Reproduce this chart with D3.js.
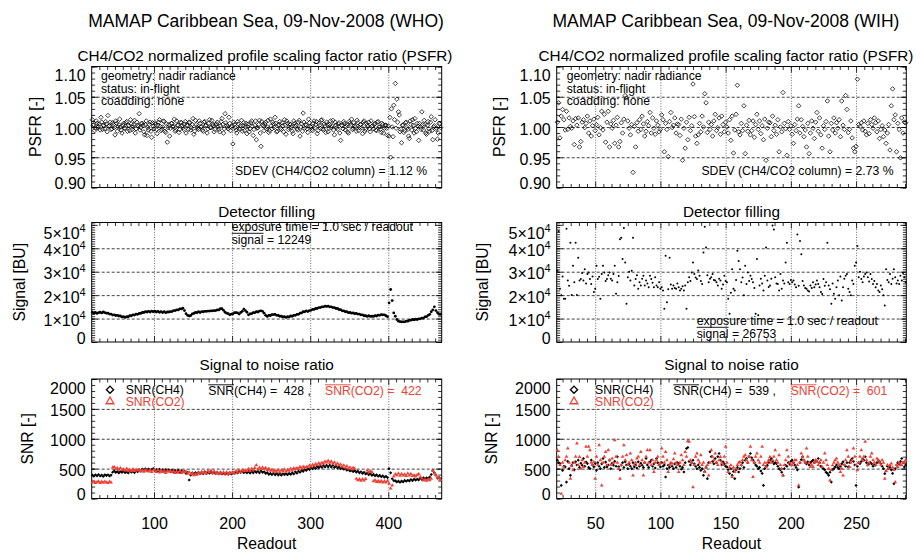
<!DOCTYPE html>
<html lang="en">
<head>
<meta charset="UTF-8" />
<title>MAMAP Caribbean Sea, 09-Nov-2008</title>
<style>
  body { margin: 0; background: #fff; }
  svg { font-family: "Liberation Sans", Arial, Helvetica, sans-serif; }
  .frame { fill: none; stroke: #000; stroke-width: 1; }
  .hgrid line { stroke: #111; stroke-width: 0.8; stroke-dasharray: 3, 2; }
  .vgrid line { stroke: #444; stroke-width: 0.8; stroke-dasharray: 1, 1.6; }
  .ticks line { stroke: #000; stroke-width: 0.8; }
  .ticks text { font-size: 16px; fill: #000; font-family: "Liberation Sans", Arial, sans-serif; }
  .title { font-size: 17.5px; }
  .sub { font-size: 15.3px; }
  .axlab { font-size: 15.7px; }
  .note { font-size: 12.2px; }
</style>
</head>
<body>
<svg width="920" height="552"></svg>
<script src="https://d3js.org/d3.v7.min.js"></script>
<script>
// ---- left column (WHO): odd readouts 21..467 (plus even readouts for PSFR)
const readoutL = d3.range(21, 468, 2);
const readoutLeven = d3.range(22, 467, 2);

const psfrL = [
  1.012,1.004,0.998,1.006,1.001,0.995,1.008,1.003,0.997,1.005,
  1.019,1.002,0.996,1.007,0.999,1.010,0.993,1.004,1.000,0.990,
  1.006,0.998,1.009,1.003,0.994,1.005,1.000,1.011,0.997,1.003,
  1.022,0.999,1.006,0.992,1.004,0.986,0.995,1.008,0.983,1.001,
  1.007,0.996,1.003,1.012,0.994,1.000,1.009,0.991,0.975,1.004,
  0.998,1.006,1.001,0.993,1.010,1.003,0.996,1.007,0.999,1.005,
  0.990,1.002,1.008,0.995,1.004,0.988,1.011,1.000,0.996,1.006,
  1.001,0.993,1.009,1.003,0.997,1.012,0.999,1.005,0.992,1.004,
  1.008,0.996,1.002,1.014,0.990,1.022,1.003,0.997,1.006,1.000,
  0.972,1.004,0.995,1.009,0.998,1.002,0.993,1.007,1.000,0.989,
  1.005,0.997,1.010,0.986,1.003,0.979,0.999,1.011,0.968,1.004,
  0.994,1.008,1.000,0.991,1.013,0.997,1.005,1.016,0.992,1.003,
  1.009,0.996,1.002,1.012,0.988,1.006,0.999,1.004,0.993,1.010,
  1.001,0.997,1.008,0.985,1.005,1.023,0.998,1.003,0.991,1.007,
  1.000,0.994,1.010,1.004,0.989,1.006,0.998,1.012,0.995,1.002,
  1.008,0.992,1.004,0.999,1.011,0.987,1.003,0.996,1.007,0.978,
  1.002,1.009,0.995,1.004,0.990,1.006,1.013,0.998,1.002,0.993,
  1.007,0.999,1.004,0.989,1.010,0.996,1.003,1.008,0.992,1.001,
  0.997,1.006,0.994,1.009,1.000,0.991,1.004,0.998,1.003,0.986,
  0.985,0.950,1.000,1.036,1.072,1.046,1.025,0.992,0.974,1.003,
  0.994,1.008,0.996,0.981,1.004,1.012,0.990,0.998,1.006,0.978,
  1.000,1.025,0.995,1.004,0.988,1.009,0.993,1.017,0.979,1.002,
  0.996,0.980,1.006,0.999
];

const psfrLeven = [
  1.003,0.994,1.010,0.999,1.005,1.016,0.996,1.002,1.009,0.992,
  1.001,1.008,0.997,1.004,0.987,1.006,1.000,1.013,0.995,1.003,
  0.998,1.007,0.993,1.002,1.012,0.996,1.004,0.990,1.008,1.001,
  0.995,1.006,1.003,0.987,1.010,0.999,1.004,0.993,1.007,0.997,
  1.004,0.989,1.008,1.001,0.996,1.010,0.993,1.005,0.999,0.985,
  1.006,1.000,1.013,0.995,1.003,0.991,1.008,1.002,0.996,1.009,
  1.003,0.996,1.007,0.999,1.014,0.993,1.004,0.998,1.010,1.000,
  0.995,1.008,1.002,0.990,1.006,0.999,1.011,1.003,0.996,1.005,
  1.000,0.992,1.009,1.004,0.997,1.007,1.000,1.016,0.994,1.002,
  1.008,0.999,0.990,1.005,0.996,1.011,1.002,0.994,1.006,1.000,
  0.992,1.007,1.001,0.996,1.010,0.998,1.004,0.990,1.009,1.002,
  1.005,0.997,1.011,0.994,1.002,1.008,0.999,1.006,0.993,1.004,
  0.998,1.007,0.992,1.003,1.010,0.996,1.005,1.000,0.989,1.006,
  1.003,0.995,1.011,1.000,0.993,1.008,1.004,0.997,1.013,1.001,
  0.996,1.006,0.999,1.009,0.994,1.003,1.011,0.997,1.005,0.991,
  1.004,0.998,1.010,1.002,0.995,1.008,0.999,1.005,0.990,1.003,
  0.997,1.006,1.001,0.992,1.009,1.003,0.996,1.007,1.000,1.011,
  0.994,1.004,0.999,1.008,0.993,1.006,1.001,0.997,1.010,1.002,
  1.004,0.995,1.008,1.000,0.996,1.006,0.990,1.003,0.998,1.002,
  1.016,1.030,0.984,1.012,0.998,1.008,1.020,0.996,1.003,0.991,
  1.007,0.999,0.985,1.010,0.995,1.003,1.014,0.992,1.001,1.006,
  0.996,1.004,1.011,0.990,1.003,0.997,1.008,0.994,1.000,1.012,
  0.998,0.990,1.005
];

// detector signal, in 10^3 BU
const signalL = [
  12.7,12.3,12.6,12.2,12.5,12.7,12.4,12.8,12.5,12.3,
  12.3,11.9,11.9,11.5,11.6,11.3,11.4,11.1,11.1,10.7,
  10.8,10.5,10.8,10.8,11.2,11.2,11.6,11.5,11.9,11.8,
  12.2,12.2,12.6,12.6,12.9,12.8,13.1,12.8,13.2,12.9,
  13.2,12.8,13.1,12.7,13.0,12.6,12.9,12.5,12.8,12.8,
  13.0,13.0,13.4,13.4,13.7,13.7,14.1,14.1,14.4,13.4,
  12.1,11.4,11.1,11.3,12.0,12.2,12.6,12.5,12.9,12.6,
  13.0,12.9,13.1,13.1,13.2,13.2,13.3,13.3,13.4,13.4,
  13.7,13.7,14.2,14.2,13.5,12.7,12.3,12.1,11.6,11.9,
  12.0,12.5,12.5,12.4,11.9,12.6,13.1,14.0,13.4,12.7,
  11.6,12.0,12.1,12.5,12.5,12.9,12.8,13.2,13.3,13.1,
  12.3,11.4,10.9,11.3,11.3,11.7,11.7,11.8,11.4,11.4,
  11.0,11.0,10.7,10.8,10.5,10.8,10.7,11.1,11.0,11.4,
  11.4,11.8,11.8,12.3,12.4,12.9,12.9,13.3,13.0,13.4,
  13.5,13.9,13.9,14.3,14.3,14.7,14.7,15.0,15.0,15.3,
  15.2,15.3,15.0,15.0,14.7,14.7,14.3,14.3,13.8,13.8,
  13.3,13.3,12.9,12.9,12.5,12.6,12.3,12.4,12.1,12.2,
  11.9,11.9,11.6,11.6,11.2,11.2,10.9,11.2,10.9,11.0,
  10.9,11.2,11.1,11.5,11.4,11.7,11.6,11.6,11.2,10.8,
  16.7,22.4,17.7,12.4,11.0,9.6,8.9,8.7,8.6,8.6,
  8.6,8.9,8.9,9.3,9.3,9.6,9.5,9.7,9.6,9.9,
  9.9,10.2,10.2,10.7,10.8,11.4,11.8,12.9,13.7,15.0,
  13.4,12.5,11.8,11.8
];

const snrCh4L = [
  390,372,398,380,402,376,392,370,396,384,
  398,376,392,440,462,436,450,428,452,438,
  456,432,448,428,460,440,452,434,466,448,
  480,458,492,466,498,470,494,476,486,500,
  470,486,462,490,468,480,456,484,462,478,
  452,474,446,470,450,472,440,466,448,456,
  420,436,310,392,428,404,432,410,440,416,
  438,414,446,420,440,424,448,422,442,418,
  440,412,436,410,430,406,426,404,432,412,
  438,424,446,430,450,436,454,432,448,430,
  450,426,454,430,458,436,456,430,460,438,
  446,420,432,404,420,400,422,396,418,392,
  416,390,414,400,412,398,420,404,428,412,
  446,424,456,440,470,454,486,470,498,484,
  518,498,528,504,534,516,546,522,552,528,
  556,530,558,526,552,520,540,512,528,500,
  518,490,502,474,488,462,476,450,466,442,
  458,430,448,420,438,410,426,398,414,388,
  404,380,396,372,388,364,380,356,372,350,
  500,430,330,300,296,278,290,272,292,278,
  302,288,306,294,318,298,324,308,322,312,
  342,318,346,330,344,336,360,400,470,430,
  390,342,352,326
];

const snrCo2L = [
  270,282,262,276,286,260,280,266,284,268,
  262,282,270,520,530,496,506,482,510,478,
  492,470,498,466,484,458,490,462,484,470,
  480,456,476,450,478,462,452,480,446,474,
  482,446,474,438,470,444,466,430,462,450,
  462,440,456,430,452,434,462,428,446,440,
  452,414,440,406,420,390,406,400,428,416,
  446,428,440,420,458,440,466,424,452,418,
  432,410,436,418,440,416,442,412,428,424,
  440,420,462,436,470,444,476,458,472,462,
  494,464,500,476,512,557,486,516,494,520,
  496,512,480,500,466,482,454,470,448,474,
  440,474,456,486,450,480,466,498,470,506,
  490,510,496,528,502,534,516,530,524,552,
  536,566,548,578,560,590,572,600,586,620,
  604,632,600,622,588,606,570,588,556,572,
  534,556,516,540,500,520,490,516,498,330,
  308,322,300,324,304,326,468,440,458,444,
  292,306,278,294,272,296,270,292,268,296,
  250,170,220,370,406,392,420,380,412,388,
  404,378,420,386,412,376,392,370,396,410,
  360,336,304,316,300,318,306,330,466,420,
  390,348,338,312
];

// ---- right column (WIH): one value per readout, 21..288
const readoutR = d3.range(21, 289);

const psfrR = [
  1.008,1.040,0.982,1.018,1.029,1.012,0.995,1.026,0.996,1.015,
  1.001,0.998,1.010,0.971,1.014,1.003,1.015,0.967,0.976,1.008,
  1.012,0.999,1.006,1.018,0.990,1.010,0.985,1.002,1.013,0.994,
  1.004,1.016,0.987,0.999,1.026,0.995,1.021,0.975,1.008,1.026,
  0.967,1.005,0.998,1.011,0.973,1.003,1.016,0.967,0.976,1.007,
  0.990,1.013,1.052,1.048,1.010,0.998,0.987,1.004,0.925,1.001,
  0.967,1.007,0.993,1.012,0.996,1.018,1.005,0.985,0.993,1.009,
  1.002,1.024,0.990,1.015,0.998,0.988,1.010,1.003,0.992,0.996,
  1.020,1.012,0.959,1.006,0.996,0.951,1.009,1.024,0.999,1.003,
  1.015,0.990,1.005,1.004,0.986,1.013,0.945,0.998,0.965,1.008,
  0.979,1.016,0.994,1.002,1.071,1.017,0.985,0.973,0.987,1.006,
  0.992,1.018,1.000,1.055,1.040,0.991,1.008,0.996,1.004,0.985,
  1.010,1.021,0.994,0.999,1.015,0.988,1.018,1.004,0.992,1.008,
  1.000,0.990,1.012,0.978,1.018,0.957,0.995,1.021,1.069,0.992,
  0.987,1.006,0.994,1.035,0.956,1.003,0.993,1.011,0.987,0.994,
  1.010,0.983,1.004,1.021,0.996,1.010,0.989,1.002,0.979,1.013,
  0.945,0.998,1.008,1.007,0.984,1.018,0.994,1.003,0.988,1.012,
  0.959,1.000,0.992,1.057,1.006,0.997,0.953,1.009,0.996,1.002,
  0.988,0.973,1.004,0.994,1.013,1.035,0.990,1.012,1.001,0.984,
  0.995,0.967,1.006,0.956,0.990,1.010,0.998,0.981,1.008,1.024,
  0.993,1.015,0.987,0.965,1.002,0.996,1.009,1.043,0.985,0.959,
  1.006,0.995,1.015,0.990,1.007,0.998,1.012,0.984,1.043,1.003,
  0.996,1.052,1.029,0.991,0.996,1.010,0.982,0.965,0.959,0.968,
  1.079,1.004,1.001,1.007,0.995,1.010,0.993,0.987,1.006,0.989,
  1.012,1.004,0.998,1.015,1.007,0.992,1.010,0.981,0.996,1.002,
  0.984,0.995,0.973,0.990,1.004,0.962,1.035,1.063,1.012,1.020,
  0.959,1.006,0.996,0.949,1.015,0.990,1.008,1.007
];

// detector signal, in 10^3 BU
const signalR = [
  30.4,47.3,22.7,19.9,28.0,18.5,18.5,48.3,26.2,24.0,
  42.4,20.1,32.5,25.5,42.4,20.1,36.0,26.2,26.9,29.5,
  26.2,31.1,25.0,29.0,29.7,26.9,24.8,28.0,21.3,22.7,
  32.5,26.9,27.8,18.5,29.0,32.5,29.7,26.0,26.9,28.5,
  29.7,27.0,26.2,29.0,32.5,20.6,25.5,28.2,43.8,44.5,
  35.4,48.7,33.9,16.3,27.6,30.0,26.2,30.4,44.5,24.1,
  26.9,28.5,22.7,25.5,24.1,27.0,28.3,24.1,26.2,25.0,
  23.4,28.3,26.9,25.3,23.4,27.6,24.1,23.4,25.5,22.7,
  23.4,22.0,14.2,36.8,17.0,22.5,36.0,24.5,22.7,24.1,
  23.0,22.7,25.0,23.4,22.0,22.7,23.8,22.0,24.1,14.2,
  25.5,27.6,26.0,29.7,33.9,29.0,27.5,26.9,30.5,28.3,
  26.0,24.8,38.2,49.2,40.3,28.5,25.5,27.0,27.6,29.0,
  26.5,26.2,25.5,24.1,27.0,26.2,22.7,24.5,28.3,26.0,
  25.5,18.5,12.1,21.0,31.1,22.7,22.0,26.5,38.9,34.6,
  31.1,25.5,27.5,19.9,32.5,24.8,29.7,26.0,28.3,26.9,
  25.5,23.0,12.1,35.4,11.4,24.1,27.0,25.0,22.0,28.3,
  40.3,26.2,23.5,24.1,27.0,49.7,48.0,27.6,25.0,24.8,
  22.0,29.0,22.7,26.2,25.0,33.9,42.4,25.5,24.8,26.5,
  25.5,26.2,24.5,23.4,45.9,24.0,43.1,37.5,26.0,24.1,
  23.0,22.7,22.0,21.5,24.1,23.0,25.5,23.4,24.5,26.2,
  24.8,23.4,21.3,20.5,26.9,24.0,25.5,42.4,24.1,22.5,
  16.3,25.0,20.6,18.5,23.4,26.2,19.9,28.0,17.7,23.4,
  27.0,28.3,29.0,22.7,21.3,20.0,26.2,24.8,32.5,33.9,
  41.0,27.6,30.0,26.9,25.5,28.0,29.0,29.7,27.6,25.8,
  29.0,26.9,24.8,26.0,23.4,24.8,22.0,21.3,24.1,22.5,
  19.9,15.6,31.1,26.5,25.5,29.0,24.8,27.0,31.1,27.6,
  25.0,26.2,24.8,28.3,26.2,29.5,27.6,25.5
];

const snrCh4R = [
  641,600,585,219,470,540,528,275,620,500,
  388,556,600,480,613,560,641,520,590,556,
  669,540,610,585,520,500,641,560,530,585,
  472,600,540,500,580,669,520,610,528,560,
  641,500,590,556,620,540,697,530,480,556,
  600,520,613,560,500,580,540,500,600,528,
  560,510,613,540,590,556,520,600,669,560,
  520,610,641,540,580,510,669,600,560,528,
  600,540,560,360,500,556,520,590,540,500,
  580,520,600,585,540,490,520,444,600,837,
  854,620,560,600,641,580,540,500,560,520,
  470,500,388,450,520,332,600,781,700,620,
  580,669,600,700,753,640,560,613,580,540,
  528,480,420,500,388,450,332,480,520,444,
  500,556,600,520,640,669,600,700,753,680,
  641,600,560,540,500,520,460,420,219,500,
  540,556,600,640,669,620,580,600,585,540,
  500,480,440,388,500,556,540,600,580,620,
  641,600,560,520,480,191,600,650,697,640,
  600,580,613,560,600,620,641,600,640,620,
  669,600,540,520,500,480,440,420,388,440,
  275,480,500,528,560,520,500,540,580,613,
  560,540,600,528,600,640,669,620,560,219,
  540,600,585,620,660,640,697,600,560,585,
  600,580,540,560,556,600,640,613,580,540,
  500,416,460,540,500,520,480,420,247,500,
  556,600,580,620,669,600,528,560
];

const snrCo2R = [
  809,697,560,79,600,520,641,700,837,600,
  332,540,472,600,700,922,560,697,500,640,
  528,600,866,700,866,809,600,560,613,332,
  700,560,894,640,219,600,700,781,560,809,
  640,560,669,600,978,700,600,500,332,560,
  700,894,640,725,560,600,753,640,388,560,
  600,669,700,560,781,640,388,600,700,809,
  600,809,560,640,444,600,641,700,560,600,
  837,700,600,781,640,444,560,600,585,660,
  753,600,560,444,600,725,640,560,781,700,
  961,950,640,600,191,560,700,753,640,600,
  725,560,600,444,520,560,388,600,809,700,
  640,753,600,560,640,697,600,560,700,866,
  600,444,520,560,360,520,444,500,560,600,
  613,560,640,700,725,640,600,700,866,640,
  360,600,700,753,640,600,700,866,560,600,
  528,600,640,697,600,640,700,809,640,600,
  725,560,500,388,560,640,809,700,600,560,
  556,600,640,641,560,219,600,753,700,640,
  600,837,700,600,528,560,528,600,640,613,
  560,600,640,528,600,753,640,560,500,303,
  480,556,600,640,669,600,560,444,500,388,
  560,640,809,700,528,600,640,837,700,560,
  472,600,700,809,640,700,950,640,556,600,
  700,753,640,600,560,669,640,600,560,641,
  600,332,460,560,500,560,585,520,480,275,
  560,528,600,560,556,600,613,640
];

const RED = '#ee4035';
const NB = '\u00a0';
const svg = d3.select('svg');

// square rotated 45 deg, like the IDL diamond
const diamond = {
  draw(ctx, size) {
    const r = Math.sqrt(size / 2);
    ctx.moveTo(0, -r); ctx.lineTo(r, 0); ctx.lineTo(0, r); ctx.lineTo(-r, 0); ctx.closePath();
  }
};

const panels = [
  { key: 'psfr', top: 66.5, bottom: 187.5, dom: [0.9, 1.1], grid: [0.95, 1.0, 1.05],
    labels: [0.9, 0.95, 1.0, 1.05, 1.1], minor: 0.01, fmt: d3.format('.2f'), title: 'CH4/CO2 normalized profile scaling factor ratio (PSFR)',
    ytitle: 'PSFR [-]', titleY: 61 },
  { key: 'signal', top: 222.5, bottom: 342, dom: [0, 51000], grid: [10000, 20000, 30000, 40000],
    labels: [0, 10000, 20000, 30000, 40000, 50000], minor: 1000, fmt: null, title: 'Detector filling',
    ytitle: 'Signal [BU]', titleY: 216.7 },
  { key: 'snr', top: 379, bottom: 498.5, dom: [0, 2000], grid: [500, 1000, 1500],
    labels: [0, 500, 1000, 1500, 2000], minor: 100, fmt: d3.format('d'), title: 'Signal to noise ratio',
    ytitle: 'SNR [-]', titleY: 370 }
];

const columns = [
  { x0: 91.7, x1: 441.7, dom: [20.2, 468.4], major: [100, 200, 300, 400], minorStep: 10,
    title: 'MAMAP Caribbean Sea, 09-Nov-2008 (WHO)', titleX: 266, psfrTitleX: 265,
    ylabX: [35, 19, 27], readout: readoutL, psfr: psfrL, signal: signalL, ch4: snrCh4L, co2: snrCo2L,
    psfr2: psfrLeven, readout2: readoutLeven,
    sdev: '1.12', sigMean: '12249', sigNoteX: 231.7, sigNoteY: 231.3,
    ch4Mean: '428', co2Mean: '422', legX: 110, legTextX: 125.7, meanX: 208.3, meanX2: 325,
    noteX: 101, sdevX: 427, sigSize: 1.4 },
  { x0: 556.7, x1: 906.3, dom: [20.5, 288.5], major: [50, 100, 150, 200, 250], minorStep: 6.25,
    title: 'MAMAP Caribbean Sea, 09-Nov-2008 (WIH)', titleX: 726, psfrTitleX: 726,
    ylabX: [499, 482, 491.7], readout: readoutR, psfr: psfrR, signal: signalR, ch4: snrCh4R, co2: snrCo2R,
    psfr2: [], readout2: [],
    sdev: '2.73', sigMean: '26753', sigNoteX: 696.7, sigNoteY: 325.3,
    ch4Mean: '539', co2Mean: '601', legX: 574, legTextX: 595, meanX: 673.3, meanX2: 790.7,
    noteX: 566.7, sdevX: 893.5, sigSize: 1.0 }
];

function overline(g, textSel, tspanSel, dyTop) {
  // bar over a tspan (IDL style mean bar)
  const node = tspanSel.node();
  const x = node.getStartPositionOfChar(0).x;
  const w = node.getComputedTextLength();
  const y = +textSel.attr('y') - dyTop;
  g.append('line').attr('x1', x).attr('x2', x + w).attr('y1', y).attr('y2', y)
    .attr('stroke', textSel.attr('fill') || '#000').attr('stroke-width', 0.9);
}

columns.forEach(col => {
  const g = svg.append('g');
  const x = d3.scaleLinear().domain(col.dom).range([col.x0, col.x1]);
  const w = col.x1 - col.x0;
  const xMinor = d3.range(Math.ceil(col.dom[0] / col.minorStep) * col.minorStep, col.dom[1], col.minorStep)
    .filter(v => !col.major.some(m => Math.abs(m - v) < 1e-6));

  g.append('text').attr('class', 'title').attr('x', col.titleX).attr('y', 26.7)
    .attr('text-anchor', 'middle').text(col.title);

  panels.forEach((p, pi) => {
    const y = d3.scaleLinear().domain(p.dom).range([p.bottom, p.top]);
    const h = p.bottom - p.top;
    const pg = g.append('g');

    pg.append('text').attr('class', 'sub')
      .attr('x', pi === 0 ? col.psfrTitleX : (col.x0 + col.x1) / 2).attr('y', p.titleY)
      .attr('text-anchor', 'middle').text(p.title);

    // grid: dashed horizontal, dotted vertical
    pg.append('g').attr('class', 'hgrid').attr('transform', `translate(${col.x0},0)`)
      .call(d3.axisLeft(y).tickValues(p.grid).tickSize(-w).tickFormat(''))
      .call(s => s.select('.domain').remove());
    pg.append('g').attr('class', 'vgrid').attr('transform', `translate(0,${p.bottom})`)
      .call(d3.axisBottom(x).tickValues(col.major).tickSize(-h).tickFormat(''))
      .call(s => s.select('.domain').remove());

    // minor ticks, inward on all four sides
    const yMinor = d3.range(p.dom[0], p.dom[1] + 1e-9, p.minor);
    const tk = (axis, tx, ty) => pg.append('g').attr('class', 'ticks')
      .attr('transform', `translate(${tx},${ty})`).call(axis)
      .call(s => s.select('.domain').remove());
    tk(d3.axisLeft(y).tickValues(yMinor).tickSize(-3.5).tickFormat(''), col.x0, 0);
    tk(d3.axisRight(y).tickValues(yMinor).tickSize(-3.5).tickFormat(''), col.x1, 0);
    tk(d3.axisBottom(x).tickValues(xMinor).tickSize(-3.5).tickFormat(''), 0, p.bottom);
    tk(d3.axisTop(x).tickValues(xMinor).tickSize(-3.5).tickFormat(''), 0, p.top);
    tk(d3.axisBottom(x).tickValues(col.major).tickSize(-6).tickFormat(''), 0, p.bottom);
    tk(d3.axisTop(x).tickValues(col.major).tickSize(-6).tickFormat(''), 0, p.top);

    // y labels
    const yl = tk(d3.axisLeft(y).tickValues(p.labels).tickSize(-6).tickPadding(6)
      .tickFormat(p.fmt || (() => '')), col.x0, 0);
    tk(d3.axisRight(y).tickValues(p.labels).tickSize(-6).tickFormat(''), col.x1, 0);
    const lo = p.labels[0], hi = p.labels[p.labels.length - 1];
    yl.selectAll('text').attr('dy', d => d === hi ? '14px' : d === lo ? '1px' : '7px');
    if (!p.fmt) {
      yl.selectAll('text').text(null).each(function (d) {
        const t = d3.select(this);
        if (d === 0) { t.text('0'); return; }
        t.append('tspan').text(`${d / 1e4}×10`);
        t.append('tspan').attr('dy', -7).style('font-size', '11px').text('4');
      });
    }

    // x labels only on the bottom panel
    if (pi === 2) {
      tk(d3.axisBottom(x).tickValues(col.major).tickSize(0).tickFormat(d3.format('d')), 0, p.bottom)
        .selectAll('text').attr('y', 30).attr('dy', 0);
      pg.append('text').attr('class', 'axlab').attr('x', (col.x0 + col.x1) / 2).attr('y', 549)
        .attr('text-anchor', 'middle').text('Readout');
    }

    pg.append('text').attr('class', 'axlab')
      .attr('transform', `translate(${col.ylabX[pi]},${(p.top + p.bottom) / 2}) rotate(-90)`)
      .attr('text-anchor', 'middle').attr('dy', '0.35em').text(p.ytitle);

    pg.append('rect').attr('class', 'frame').attr('x', col.x0).attr('y', p.top)
      .attr('width', w).attr('height', h);

    // marks
    const mg = pg.append('g');
    if (p.key === 'psfr') {
      const pts = col.psfr.map((v, i) => [col.readout[i], v])
        .concat(col.psfr2.map((v, i) => [col.readout2[i], v]));
      mg.selectAll('path').data(pts).join('path')
        .attr('transform', d => `translate(${x(d[0])},${y(d[1])})`)
        .attr('d', d3.symbol().type(diamond).size(10))
        .attr('fill', 'none').attr('stroke', '#000').attr('stroke-width', 0.75);
    } else if (p.key === 'signal') {
      mg.selectAll('circle').data(col.signal).join('circle')
        .attr('cx', (v, i) => x(col.readout[i])).attr('cy', v => y(v * 1000))
        .attr('r', col.sigSize).attr('fill', '#000');
    } else {
      mg.selectAll('path.ch4').data(col.ch4).join('path').attr('class', 'ch4')
        .attr('transform', (v, i) => `translate(${x(col.readout[i])},${y(v)})`)
        .attr('d', d3.symbol().type(diamond).size(5)).attr('fill', '#000');
      mg.selectAll('path.co2').data(col.co2).join('path').attr('class', 'co2')
        .attr('transform', (v, i) => `translate(${x(col.readout[i])},${y(v)})`)
        .attr('d', d3.symbol().type(d3.symbolTriangle).size(6)).attr('fill', RED);
    }
  });

  // PSFR annotations
  ['geometry: nadir radiance', 'status: in-flight', 'coadding: none'].forEach((s, i) => {
    g.append('text').attr('class', 'note').attr('x', col.noteX).attr('y', [80.2, 92.6, 105][i]).text(s);
  });
  g.append('text').attr('class', 'note').attr('x', col.sdevX).attr('y', 175.3)
    .attr('text-anchor', 'end').text(`SDEV (CH4/CO2 column) = ${col.sdev} %`);

  // detector annotations
  g.append('text').attr('class', 'note').attr('x', col.sigNoteX).attr('y', col.sigNoteY)
    .text('exposure time = 1.0 sec / readout');
  const st = g.append('text').attr('class', 'note').attr('x', col.sigNoteX).attr('y', col.sigNoteY + 12.5);
  const stSpan = st.append('tspan').text('signal');
  st.append('tspan').text(` = ${col.sigMean}`);
  overline(g, st, stSpan, 10.5);

  // SNR legend
  g.append('path').attr('transform', `translate(${col.legX},389.7)`)
    .attr('d', d3.symbol().type(diamond).size(26)).attr('fill', 'none').attr('stroke', '#000').attr('stroke-width', 1.3);
  g.append('text').attr('class', 'note').attr('x', col.legTextX).attr('y', 393.5).text('SNR(CH4)');
  g.append('path').attr('transform', `translate(${col.legX},401.5)`)
    .attr('d', d3.symbol().type(d3.symbolTriangle).size(26)).attr('fill', 'none').attr('stroke', RED).attr('stroke-width', 1.3);
  g.append('text').attr('class', 'note').attr('x', col.legTextX).attr('y', 406).attr('fill', RED).text('SNR(CO2)');

  const m1 = g.append('text').attr('class', 'note').attr('x', col.meanX).attr('y', 395.3).attr('fill', '#000');
  const m1s = m1.append('tspan').text('SNR');
  m1.append('tspan').text(`(CH4) =${NB}${NB}${col.ch4Mean}${NB},`);
  overline(g, m1, m1s, 10.5);
  const m2 = g.append('text').attr('class', 'note').attr('x', col.meanX2).attr('y', 395.3).attr('fill', RED);
  const m2s = m2.append('tspan').text('SNR');
  m2.append('tspan').text(`(CO2) =${NB}${NB}${col.co2Mean}`);
  overline(g, m2, m2s, 10.5);
});
</script>
</body>
</html>
